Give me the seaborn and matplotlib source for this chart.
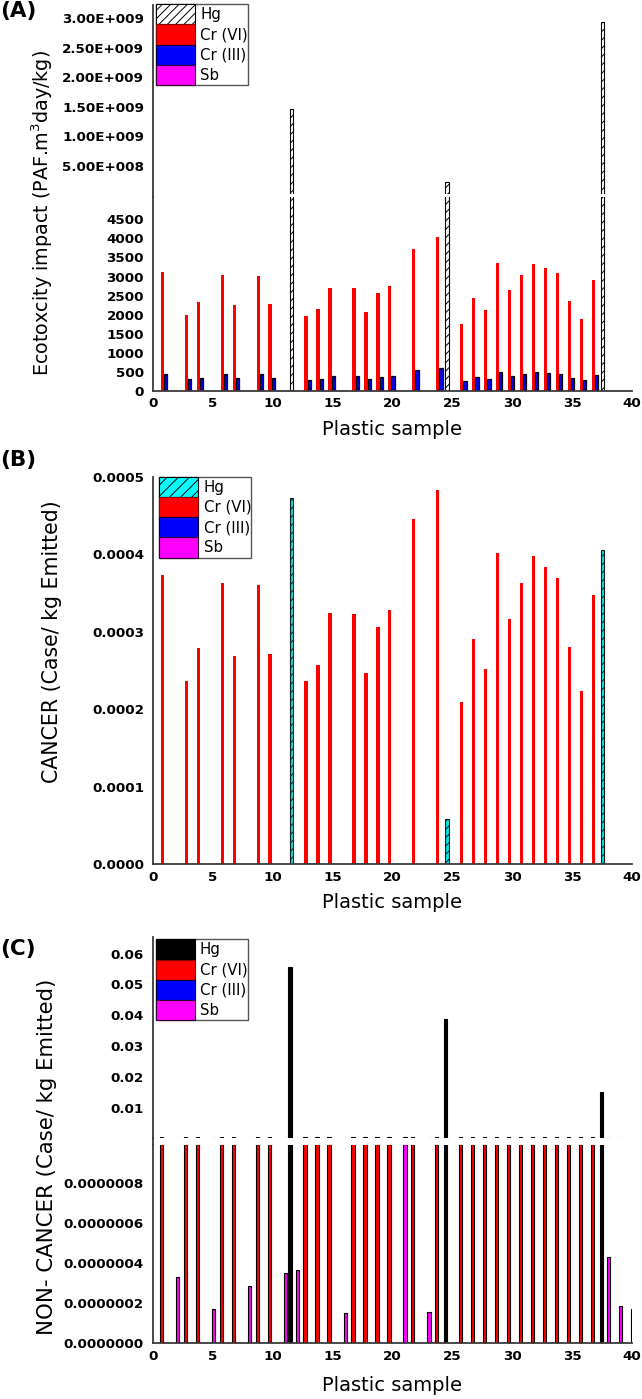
import numpy as np
import matplotlib
matplotlib.use("Agg")
import matplotlib.pyplot as plt
from matplotlib.patches import Patch
from matplotlib.lines import Line2D
import seaborn as sns

# ---------------- data ----------------
samples_cr = [1, 3, 4, 6, 7, 9, 10, 13, 14, 15, 17, 18, 19, 20, 22, 24,
              26, 27, 28, 29, 30, 31, 32, 33, 34, 35, 36, 37]
samples_hg = [12, 25, 38]
samples_sb = [2, 5, 8, 11, 12, 16, 21, 23, 38, 39, 40]

# (A) Ecotoxicity (PAF.m3day/kg)
eco_cr6 = [3120, 1984, 2333, 3032, 2246, 3015, 2272, 1966, 2150, 2709, 2709, 2071,
           2560, 2744, 3722, 4046, 1756, 2438, 2115, 3355, 2639, 3032, 3338, 3216,
           3085, 2350, 1879, 2919]
eco_cr3 = [454, 306, 341, 446, 332, 446, 341, 288, 315, 393, 393, 306, 376, 402,
           542, 594, 271, 358, 306, 489, 393, 454, 489, 472, 454, 341, 288, 428]
eco_hg = [1.454e9, 0.226e9, 2.937e9]

# (B) Cancer (Case/kg emitted)
can_cr6 = [0.000373, 0.000237, 0.000279, 0.000363, 0.000269, 0.000360, 0.000271,
           0.000236, 0.000257, 0.000324, 0.000323, 0.000247, 0.000306, 0.000328,
           0.000446, 0.000483, 0.000209, 0.000291, 0.000252, 0.000401, 0.000316,
           0.000363, 0.000398, 0.000383, 0.000369, 0.000280, 0.000224, 0.000348]
can_hg = [0.000473, 0.000058, 0.000405]

# (C) Non-cancer (Case/kg emitted); Cr(VI) bars run off the lower scale
non_cr6 = [5.6e-4, 4.6e-4, 5.0e-4, 5.5e-4, 4.9e-4, 5.5e-4, 4.9e-4, 4.6e-4, 4.8e-4,
           5.2e-4, 5.2e-4, 4.7e-4, 5.1e-4, 5.2e-4, 6.0e-4, 6.2e-4, 4.4e-4, 5.0e-4,
           4.8e-4, 5.6e-4, 5.1e-4, 5.5e-4, 5.6e-4, 5.6e-4, 5.5e-4, 5.0e-4, 4.5e-4,
           5.3e-4]
non_hg = [0.0558, 0.0389, 0.0152]
non_sb = [3.30e-7, 1.70e-7, 2.87e-7, 3.52e-7, 3.65e-7, 1.53e-7, 5.0e-4, 1.58e-7,
          4.32e-7, 1.87e-7, 1.72e-7]

xticks = [0, 5, 10, 15, 20, 25, 30, 35, 40]
legend_labels = ["Hg", "Cr (VI)", "Cr (III)", "Sb"]

# ---------------- style ----------------
sns.set_style("ticks")
plt.rcParams["font.family"] = ["DejaVu Sans"]
plt.rcParams["mathtext.fontset"] = "dejavusans"
plt.rcParams["hatch.linewidth"] = 0.7
for k in ["text.color", "axes.labelcolor", "xtick.color", "ytick.color"]:
    plt.rcParams[k] = "black"

W, H = 642, 1399
fig = plt.figure(figsize=(W / 100, H / 100), dpi=100)
X0, X1 = 153, 632
SPINE = "#3a3a3a"


def add_ax(top, bottom):
    return fig.add_axes([X0 / W, 1 - bottom / H, (X1 - X0) / W, (bottom - top) / H])


def bars(ax, samples, values, offset, width=0.27, **kw):
    pos = np.asarray(samples, dtype=float) + offset
    uniq = np.unique(pos)
    nw = np.min(np.diff(uniq)) if len(uniq) > 1 else 1.0
    sns.barplot(x=pos, y=values, native_scale=True, orient="x", width=width / nw,
                saturation=1, errorbar=None, ax=ax, **kw)


def style_ax(ax, show_x=True):
    for s in ["top", "right"]:
        ax.spines[s].set_visible(False)
    ax.spines["left"].set_color(SPINE)
    ax.spines["left"].set_linewidth(1.3)
    ax.spines["bottom"].set_color(SPINE)
    ax.spines["bottom"].set_linewidth(1.3)
    ax.set_xlim(0, 40)
    ax.tick_params(axis="y", length=0, pad=6.5, labelsize=9.7, colors="black")
    ax.tick_params(axis="x", length=0, pad=4.5, labelsize=9.7, colors="black")
    for t in ax.get_yticklabels():
        t.set_fontweight("bold")
    if show_x:
        ax.set_xticks(xticks)
        ax.set_xticklabels([str(v) for v in xticks], fontweight="bold")
    else:
        ax.spines["bottom"].set_visible(False)
        ax.set_xticks([])
    ax.set_xlabel("")
    ax.set_ylabel("")
    ax.set_facecolor("none")


def sci_label(v):
    m, e = f"{v:.2E}".split("E")
    sign = e[0]
    return f"{m}E{sign}{int(e[1:]):03d}"


def legend(ax, hg_patch, x, y):
    handles = [hg_patch,
               Patch(facecolor="#ff0000", edgecolor="#8b0000", linewidth=0.8),
               Patch(facecolor="#0000ff", edgecolor="#000030", linewidth=0.8),
               Patch(facecolor="#ff00ff", edgecolor="#300030", linewidth=0.8)]
    lg = ax.legend(handles=handles, labels=legend_labels, loc="upper left",
                   bbox_to_anchor=(x / W, 1 - y / H), bbox_transform=fig.transFigure,
                   fontsize=10.8, handlelength=2.6, handleheight=1.70,
                   labelspacing=0, borderpad=0, handletextpad=0.35,
                   borderaxespad=0, fancybox=False, framealpha=1)
    lg.get_frame().set_edgecolor("#555555")
    lg.get_frame().set_linewidth(1.0)
    return lg


def gap_line(top, bottom):
    fig.add_artist(Line2D([X0 / W, X0 / W], [1 - bottom / H, 1 - top / H],
                          transform=fig.transFigure, color=SPINE, lw=1.3))


# ---------------- panel A ----------------
a_up = add_ax(5, 193.5)
a_lo = add_ax(197, 391)
for ax in (a_up, a_lo):
    bars(ax, samples_cr, eco_cr6, -0.22, color="#ff0000", linewidth=0)
    bars(ax, samples_cr, eco_cr3, 0.05, color="#0000ff", edgecolor="black", linewidth=0.9)
    bars(ax, samples_hg, eco_hg, -0.45, color="white", edgecolor="black",
         linewidth=0.8, hatch="////")
a_up.set_ylim(3e7, 3.22e9)
a_up_ticks = [5e8, 1e9, 1.5e9, 2e9, 2.5e9, 3e9]
a_up.set_yticks(a_up_ticks)
a_up.set_yticklabels([sci_label(v) for v in a_up_ticks])
style_ax(a_up, show_x=False)
a_lo.set_ylim(0, 5084)
a_lo.set_yticks(list(range(0, 4501, 500)))
a_lo.set_yticklabels([str(v) for v in range(0, 4501, 500)])
style_ax(a_lo)
gap_line(193.5, 197)
legend(a_up, Patch(facecolor="white", edgecolor="black", hatch="////", linewidth=0.8),
       155.8, 4)

# ---------------- panel B ----------------
b_ax = add_ax(476.7, 864.3)
bars(b_ax, samples_cr, can_cr6, -0.22, color="#ff0000", linewidth=0)
bars(b_ax, samples_hg, can_hg, -0.45, color="#00e5e5", edgecolor="#1a1a1a",
     linewidth=0.8, hatch="////")
b_ax.set_ylim(0, 0.0005)
b_ticks = [0, 0.0001, 0.0002, 0.0003, 0.0004, 0.0005]
b_ax.set_yticks(b_ticks)
b_ax.set_yticklabels([f"{v:.4f}" for v in b_ticks])
style_ax(b_ax)
legend(b_ax, Patch(facecolor="#00ffff", edgecolor="black", hatch="///", linewidth=0.8),
       159.3, 476.7)

# ---------------- panel C ----------------
c_up = add_ax(936.7, 1138)
c_lo = add_ax(1145, 1343.3)
for ax in (c_up, c_lo):
    bars(ax, samples_cr, non_cr6, -0.3, color="#ff0000", edgecolor="black", linewidth=0.8)
    bars(ax, samples_sb, non_sb, 0.05, color="#ff00ff", edgecolor="black", linewidth=0.8)
    bars(ax, samples_hg, non_hg, -0.55, color="black", edgecolor="black", linewidth=0.8)
c_up.set_ylim(0.00016, 0.06547)
c_up_ticks = [0.01, 0.02, 0.03, 0.04, 0.05, 0.06]
c_up.set_yticks(c_up_ticks)
c_up.set_yticklabels([f"{v:.2f}" for v in c_up_ticks])
style_ax(c_up, show_x=False)
c_lo.set_ylim(0, 9.915e-7)
c_lo_ticks = [0, 2e-7, 4e-7, 6e-7, 8e-7]
c_lo.set_yticks(c_lo_ticks)
c_lo.set_yticklabels([f"{v:.7f}" for v in c_lo_ticks])
style_ax(c_lo)
gap_line(1138, 1145)
legend(c_up, Patch(facecolor="black", edgecolor="black", linewidth=0.8), 155.7, 939.3)

# ---------------- texts ----------------
for lab, yy in [("(A)", 1), ("(B)", 450), ("(C)", 938.5)]:
    fig.text(0.0, 1 - yy / H, lab, fontsize=15.5, fontweight="bold", ha="left", va="top")

fig.text(42 / W, 1 - 213 / H, r"Ecotoxcity impact (PAF.m$^{3}$day/kg)", rotation=90,
         ha="center", va="center", fontsize=13.8)
fig.text(52 / W, 1 - 641.5 / H, "CANCER (Case/ kg Emitted)", rotation=90,
         ha="center", va="center", fontsize=14.8)
fig.text(47 / W, 1 - 1157 / H, "NON- CANCER (Case/ kg Emitted)", rotation=90,
         ha="center", va="center", fontsize=15.3)

xc = (X0 + X1) / 2
for yb in [435, 908, 1391]:
    fig.text(xc / W, 1 - yb / H, "Plastic sample", ha="center", va="baseline", fontsize=14)

fig.savefig("out.png", dpi=100, facecolor="white")
